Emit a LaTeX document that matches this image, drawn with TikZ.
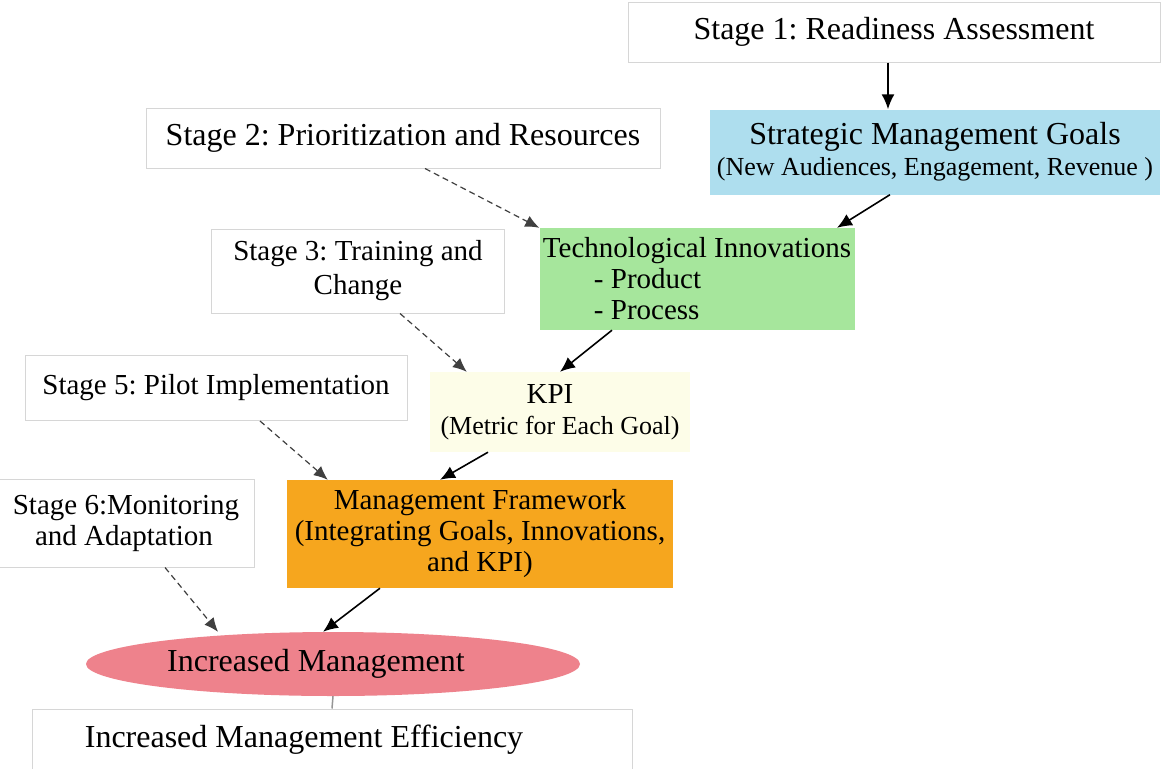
\documentclass[tikz,border=0pt]{standalone}
\usepackage{fontspec}
\setmainfont{Liberation Serif}
\usetikzlibrary{arrows.meta,shapes.geometric}
\definecolor{boxgray}{RGB}{214,214,214}
\definecolor{goalblue}{RGB}{174,222,238}
\definecolor{techgreen}{RGB}{166,230,156}
\definecolor{kpiyellow}{RGB}{253,253,232}
\definecolor{mforange}{RGB}{246,166,30}
\definecolor{respink}{RGB}{238,130,140}
\newcommand\bigsz{\fontsize{32}{38}\selectfont}
\newcommand\midsz{\fontsize{29}{31}\selectfont}
\newcommand\smallsz{\fontsize{26}{31}\selectfont}
\frenchspacing
\begin{document}
\begin{tikzpicture}[x=1pt,y=-1pt,
    stagebox/.style={draw=boxgray,line width=1pt,fill=white,inner sep=0pt,align=center},
    colbox/.style={inner sep=0pt,align=center},
    solidarr/.style={-{Latex[length=15pt,width=13pt]},line width=1.6pt},
    dasharr/.style={-{Latex[length=14pt,width=12pt]},line width=1.2pt,draw=black!75,dash pattern=on 6pt off 4pt}]
    \fill[white] (0,0) rectangle (1163,769);
    \useasboundingbox (0,0) rectangle (1163,769);
    % the stages on the left, the chain of results on the right
    \node[stagebox,font=\bigsz,minimum width=532,minimum height=60] (stage1) at (894,32) {Stage 1: Readiness Assessment};
    \node[colbox,fill=goalblue,font=\smallsz,minimum width=450,minimum height=85] (goals) at (935,152)
        {{\bigsz Strategic Management Goals}\\(New Audiences, Engagement, Revenue )};
    \node[stagebox,font=\bigsz,minimum width=514,minimum height=60] (stage2) at (403,138) {Stage 2: Prioritization and Resources};
    \node[colbox,fill=techgreen,font=\midsz,align=left,minimum width=315,minimum height=102] (tech) at (697,279)
        {Technological Innovations\\\hspace*{51pt}- Product\\\hspace*{51pt}- Process};
    \node[stagebox,font=\midsz,minimum width=293,minimum height=84] (stage3) at (358,271) {Stage 3: Training and\\[3pt]Change};
    \node[colbox,fill=kpiyellow,font=\smallsz,minimum width=260,minimum height=80] (kpi) at (560,412)
        {{\midsz KPI}\hspace*{20pt}\\(Metric for Each Goal)};
    \node[stagebox,font=\midsz,minimum width=382,minimum height=65] (stage5) at (216,388) {Stage 5: Pilot Implementation};
    \node[colbox,fill=mforange,font=\midsz,minimum width=386,minimum height=108] (frame) at (480,534)
        {Management Framework\\(Integrating Goals, Innovations,\\and KPI)};
    \node[stagebox,font=\midsz,minimum width=257,minimum height=88] (stage6) at (126,523) {Stage 6:Monitoring\\and Adaptation\hspace*{4pt}};
    \node[ellipse,fill=respink,inner sep=0pt,font=\bigsz,minimum width=494,minimum height=64] (result) at (333,664) {Increased Management\hspace*{34pt}};
    \node[stagebox,font=\bigsz,minimum width=600,minimum height=62] (effic) at (332,740) {Increased Management Efficiency\hspace*{56pt}};

    \draw[solidarr] ([xshift=-6]stage1.south) -- ([xshift=-6]stage1.south |- goals.north);
    \draw[solidarr] ([xshift=-45]goals.south) -- ([xshift=140]tech.north);
    \draw[dasharr] ([xshift=22]stage2.south) -- (tech.north west);
    \draw[solidarr] ([xshift=-85]tech.south) -- (kpi.north);
    \draw[dasharr] ([xshift=42]stage3.south) -- ([xshift=37]kpi.north west);
    \draw[solidarr] ([xshift=-72]kpi.south) -- ([xshift=-40]frame.north);
    \draw[dasharr] ([xshift=44]stage5.south) -- ([xshift=41]frame.north west);
    \draw[dasharr] ([xshift=39]stage6.south) -- ([xshift=-115]result.north);
    \draw[solidarr] ([xshift=-100]frame.south) -- ([xshift=-10]result.north);
    \draw[boxgray!70!black,line width=1.5pt] (result.south) -- (effic.north);
\end{tikzpicture}
\end{document}
